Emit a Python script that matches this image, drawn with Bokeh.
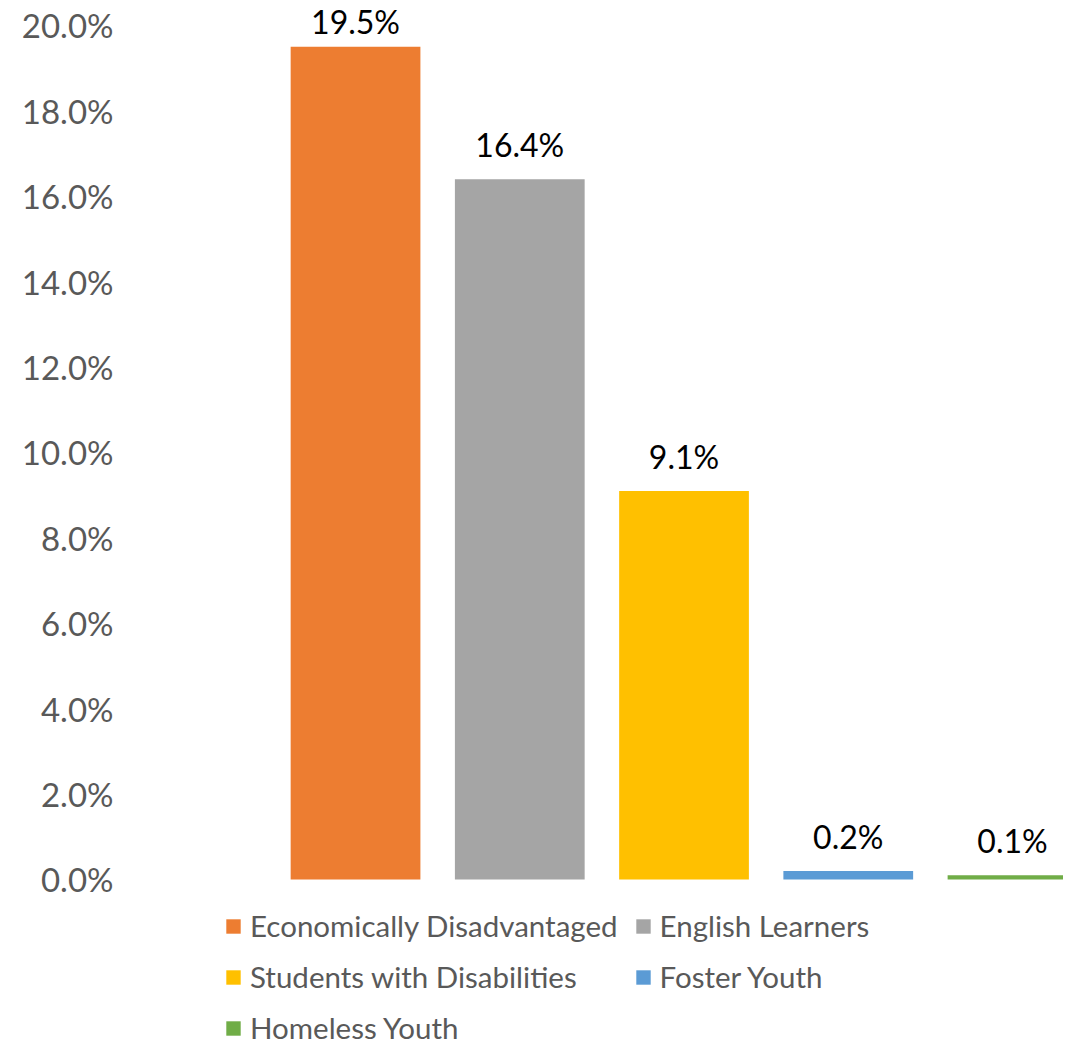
from bokeh.plotting import figure
from bokeh.models import ColumnDataSource, Range1d, FixedTicker, Legend, LegendItem, LabelSet, CustomJSTickFormatter
from bokeh.core.properties import value
from bokeh.embed import file_html
from bokeh.resources import INLINE

categories = ["Economically Disadvantaged", "English Learners", "Students with Disabilities",
              "Foster Youth", "Homeless Youth"]
values = [19.5, 16.4, 9.1, 0.2, 0.1]
labels = ["19.5%", "16.4%", "9.1%", "0.2%", "0.1%"]
colors = ["#ED7D31", "#A5A5A5", "#FFC000", "#5B9BD5", "#70AD47"]
y_ticks = [0, 2, 4, 6, 8, 10, 12, 14, 16, 18, 20]

FONT = "Lato"
Y_START, Y_END = -3.888, 20.585
HEIGHT = 1045
PX_PER_UNIT = HEIGHT / (Y_END - Y_START)
LABEL_GAP = 22
LABEL_ASCENT = 33

# label offset above each bar, reduced only where the bar is too close to the top edge
label_offsets = [min(LABEL_GAP, (Y_END - v) * PX_PER_UNIT - LABEL_ASCENT) for v in values]

src = ColumnDataSource(dict(x=list(range(len(categories))), top=values, label=labels,
                            color=colors, cat=categories, yoff=label_offsets))

p = figure(width=1063, height=HEIGHT, output_backend="svg", toolbar_location=None,
           x_range=Range1d(-1.431, 4.3105), y_range=Range1d(Y_START, Y_END),
           min_border_top=0, min_border_bottom=0, min_border_right=0, min_border_left=120)
p.outline_line_color = None
p.xgrid.visible = False
p.ygrid.visible = False
p.xaxis.visible = False

r = p.vbar(x="x", top="top", bottom=0, width=0.79, color="color", line_color=None, source=src)

lbl = LabelSet(x="x", y="top", text="label", source=src, text_align="center",
               text_baseline="alphabetic", y_offset="yoff", text_font=value(FONT),
               text_font_size="32px", text_color="#000000")
p.add_layout(lbl)

ax = p.yaxis[0]
ax.ticker = FixedTicker(ticks=y_ticks)
ax.formatter = CustomJSTickFormatter(code="return tick.toFixed(1) + '%';")
ax.axis_line_color = None
ax.major_tick_line_color = None
ax.minor_tick_line_color = None
ax.major_tick_out = 0
ax.major_tick_in = 0
ax.major_label_standoff = 7
ax.major_label_text_font = FONT
ax.major_label_text_font_size = "33px"
ax.major_label_text_color = "#595959"

items = [LegendItem(label=c, renderers=[r], index=i) for i, c in enumerate(categories)]
legend = Legend(items=items, location=(104, 0), orientation="horizontal", ncols=2,
                glyph_width=18, glyph_height=18, label_standoff=8, spacing=16,
                padding=0, margin=0, border_line_color=None, background_fill_alpha=0,
                label_text_font=FONT, label_text_font_size="29.5px", label_text_color="#595959")
p.add_layout(legend, "center")

open("out.html", "w").write(file_html(p, INLINE))
